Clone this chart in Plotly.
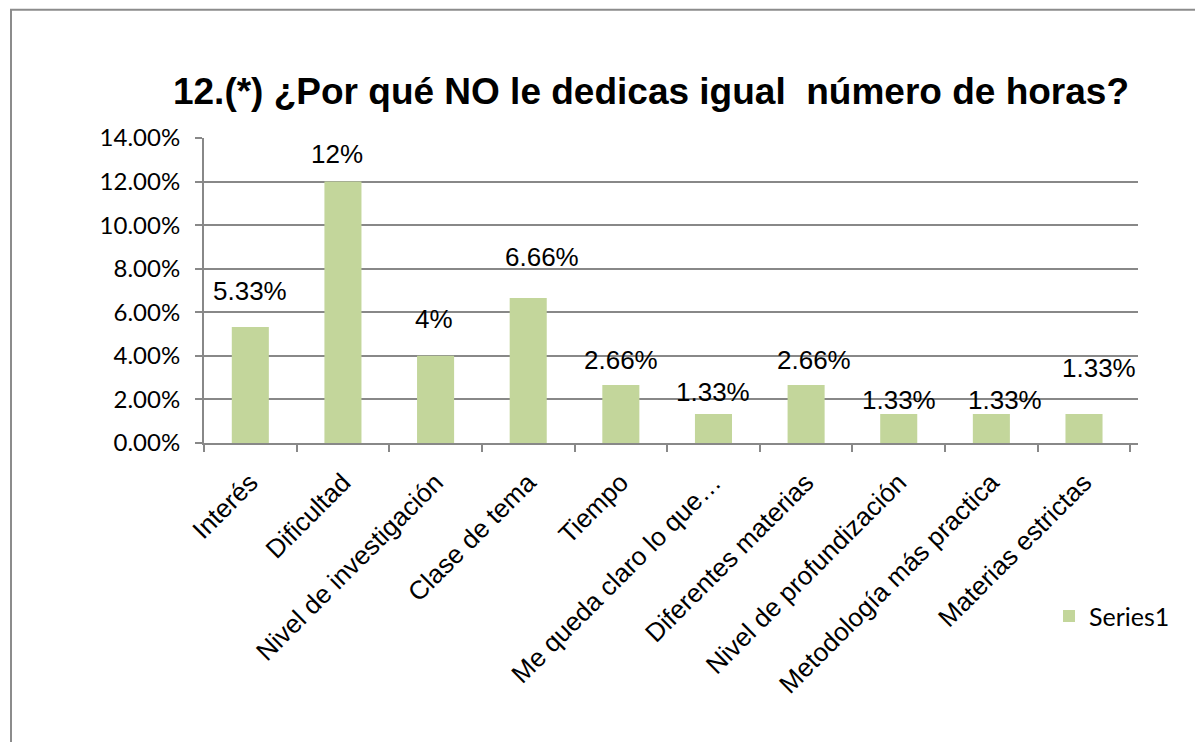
import plotly.graph_objects as go

categories = ["Interés", "Dificultad", "Nivel de investigación", "Clase de tema", "Tiempo",
              "Me queda claro lo que…", "Diferentes materias", "Nivel de profundización",
              "Metodología más practica", "Materias estrictas"]
values = [0.0533, 0.12, 0.04, 0.0666, 0.0266, 0.0133, 0.0266, 0.0133, 0.0133, 0.0133]
labels = ["5.33%", "12%", "4%", "6.66%", "2.66%", "1.33%", "2.66%", "1.33%", "1.33%", "1.33%"]

# label nudges (px), the source had them dragged around by hand
label_dx = [0, -6, -2, 14, 0, 0, 8, 0, 14, 15]
label_dy = [36, 28, 37, 41, 25, 22, 25, 14, 14, 46]

W, H = 1203, 742
# page body has an 8px margin, so everything below is in figure coords
L, R, T, B = 196, 73, 129.5, 306.7
pw, ph = W - L - R, H - T - B

bar_color = "#c3d69b"
grid_color = "#888888"

fig = go.Figure()
fig.add_trace(go.Bar(x=categories, y=values, name="Series1",
                     marker=dict(color=bar_color, line=dict(width=0))))

for c, v, t, dx, dy in zip(categories, values, labels, label_dx, label_dy):
    fig.add_annotation(x=c, y=v, text=t, showarrow=False, xshift=dx, yshift=dy,
                       yanchor="middle", font=dict(family="Liberation Sans, Arial", size=26, color="#000"))

# outer chart border (runs off right/bottom edge)
fig.add_shape(type="rect", xref="paper", yref="paper",
              x0=(3 - L) / pw, x1=(W + 20 - L) / pw,
              y0=(H - B - (H + 20)) / ph, y1=(H - B - 1) / ph,
              line=dict(color="#8c8c8c", width=2), layer="below")

fig.update_layout(
    width=W, height=H,
    margin=dict(l=L, r=R, t=T, b=B),
    paper_bgcolor="white", plot_bgcolor="white",
    bargap=0.6,
    title=dict(text="12.(*) ¿Por qué NO le dedicas igual\u00a0 número de horas?",
               x=643 / W, xanchor="center", y=1 - 83 / H, yanchor="middle",
               font=dict(family="Liberation Sans, Arial", size=37, color="#000", weight="bold")),
    showlegend=True,
    legend=dict(x=(1041 - L) / pw, y=(H - B - 609) / ph, yanchor="middle", xanchor="left",
                font=dict(family="Lato", size=25, color="#000"), bgcolor="rgba(0,0,0,0)"),
    xaxis=dict(showline=True, linecolor=grid_color, linewidth=2, ticks="outside",
               tickson="boundaries", ticklen=7, tickcolor=grid_color, tickwidth=2,
               tickangle=-45, showgrid=False, ticklabelstandoff=12,
               tickfont=dict(family="Liberation Sans, Arial", size=26, color="#000")),
    yaxis=dict(range=[0, 0.14], dtick=0.02, tickformat=".2%", showline=True,
               linecolor=grid_color, linewidth=2, ticks="outside", ticklen=7,
               tickcolor=grid_color, tickwidth=2, showgrid=True, gridcolor=grid_color,
               gridwidth=2, zeroline=False, ticklabelstandoff=10,
               tickfont=dict(family="Lato", size=24, color="#000")),
)

fig.write_html("out.html")
